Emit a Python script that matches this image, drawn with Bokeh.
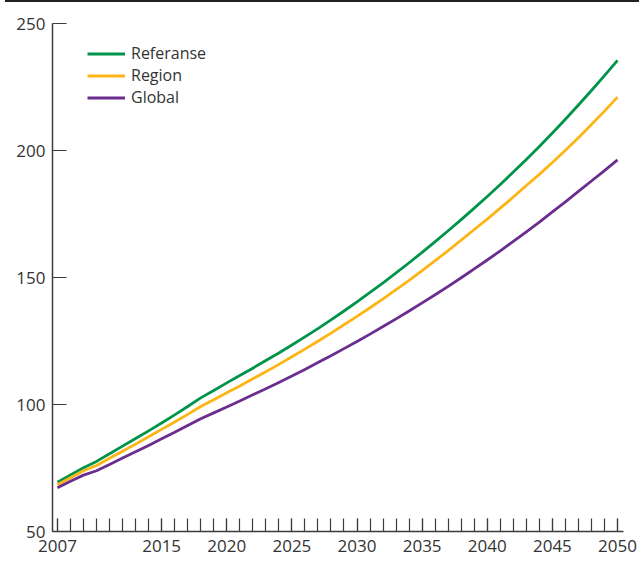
from bokeh.plotting import figure
from bokeh.models import FixedTicker, Legend, LegendItem
from bokeh.embed import file_html
from bokeh.resources import INLINE

years = list(range(2007, 2051))
referanse = [69.4, 72.3, 75.1, 77.6, 80.6, 83.6, 86.6, 89.6, 92.7, 95.9,
             99.2, 102.6, 105.5, 108.5, 111.4, 114.3, 117.3, 120.3, 123.4, 126.6,
             129.9, 133.3, 136.8, 140.4, 144.1, 147.9, 151.8, 155.8, 159.9, 164.1,
             168.4, 172.8, 177.3, 181.9, 186.6, 191.5, 196.5, 201.6, 206.9, 212.3,
             217.9, 223.6, 229.5, 235.5]
region = [68.4, 71.2, 73.9, 76.0, 78.8, 81.6, 84.4, 87.3, 90.2, 93.1,
          96.1, 99.2, 101.9, 104.6, 107.3, 110.1, 112.9, 115.8, 118.8, 121.8,
          124.9, 128.1, 131.4, 134.7, 138.1, 141.6, 145.2, 148.9, 152.7, 156.6,
          160.6, 164.7, 168.9, 173.0, 177.3, 181.7, 186.2, 190.6, 195.3, 200.1,
          205.0, 210.2, 215.5, 221.0]
global_ = [67.2, 69.8, 72.2, 73.9, 76.4, 78.9, 81.4, 83.9, 86.5, 89.1,
           91.7, 94.4, 96.7, 99.0, 101.4, 103.8, 106.2, 108.7, 111.2, 113.8,
           116.5, 119.2, 122.0, 124.8, 127.7, 130.7, 133.7, 136.8, 140.0, 143.2,
           146.5, 149.9, 153.4, 156.9, 160.5, 164.2, 168.0, 171.8, 175.8, 179.8,
           183.9, 188.0, 192.1, 196.3]
series_names = ["Referanse", "Region", "Global"]
x_label_ticks = [2007, 2015, 2020, 2025, 2030, 2035, 2040, 2045, 2050]
y_ticks = [50, 100, 150, 200, 250]

colors = ["#00934A", "#FDB515", "#6B2D8F"]
FONT = "Open Sans"
AX = "#3c3c3c"

p = figure(width=639, height=564, x_range=(2006.62, 2050.46), y_range=(50, 250),
           output_backend="svg", toolbar_location=None,
           min_border_left=52, min_border_right=16, min_border_top=23, min_border_bottom=33)
p.outline_line_color = None
p.grid.visible = False
p.background_fill_color = "white"
p.border_fill_alpha = 0
# thin dark rule along the very top edge, shown through the transparent border
p.styles = {"background": "linear-gradient(#222222, #222222) 5px 0 / 634px 2px no-repeat, #ffffff"}

renderers = []
for vals, c in zip([referanse, region, global_], colors):
    r = p.line(years, vals, line_width=2.8, line_color=c, line_join="round")
    renderers.append(r)

xa = p.xaxis[0]
xa.ticker = FixedTicker(ticks=x_label_ticks, minor_ticks=years)
xa.major_tick_in = 13
xa.major_tick_out = 0
xa.minor_tick_in = 13
xa.minor_tick_out = 0
xa.major_tick_line_color = AX
xa.minor_tick_line_color = AX
xa.major_tick_line_width = 1.2
xa.minor_tick_line_width = 1.2
xa.major_label_standoff = 8

ya = p.yaxis[0]
ya.ticker = FixedTicker(ticks=y_ticks)
ya.major_tick_in = 14
ya.major_tick_out = 0
ya.major_tick_line_color = AX
ya.major_tick_line_width = 1.2
ya.minor_tick_line_color = None
ya.major_label_standoff = 7

for ax in (xa, ya):
    ax.axis_line_color = AX
    ax.axis_line_width = 1.5
    ax.major_label_text_font = FONT
    ax.major_label_text_font_size = "17px"
    ax.major_label_text_color = "#333333"

legend = Legend(items=[LegendItem(label=n, renderers=[r]) for n, r in zip(series_names, renderers)],
                location=(35, 423), margin=0, padding=0, spacing=0,
                glyph_width=38, glyph_height=21, label_height=21, label_standoff=6,
                label_text_font=FONT, label_text_font_size="16px", label_text_color="#333333",
                border_line_color=None, background_fill_alpha=0)
p.add_layout(legend)

open("out.html", "w").write(file_html(p, INLINE))
